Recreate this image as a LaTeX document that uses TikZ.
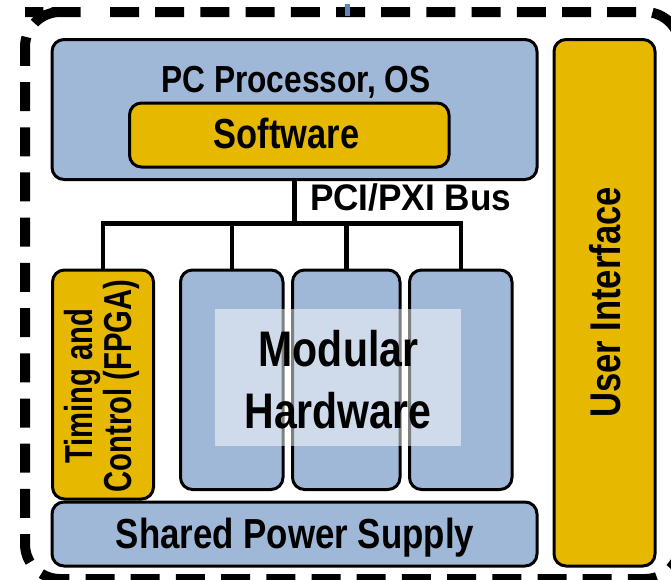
\documentclass[tikz,border=0pt]{standalone}
\usepackage{fontspec}
\setmainfont{Liberation Sans}
\usetikzlibrary{fit}
\definecolor{pblue}{RGB}{160,184,216}
\definecolor{pyellow}{RGB}{230,184,0}
\definecolor{tickblue}{RGB}{95,134,184}
\newcommand{\lbl}[3]{\scalebox{#1}[1]{\fontsize{#2}{#2}\selectfont\bfseries #3}}
\begin{document}
\begin{tikzpicture}[x=1pt,y=-1pt,
  box/.style={draw=black, line width=3pt, rounded corners=12pt, inner sep=0pt, outer sep=0pt},
  bluebox/.style={box, fill=pblue},
  yelbox/.style={box, fill=pyellow},
  bus/.style={line width=4.5pt},
  frame/.style={line width=10pt, dash pattern=on 29pt off 16.2pt, dash phase=30.2pt},
  lab/.style={inner sep=0pt, outer sep=0pt, text=black}]
\useasboundingbox (0,0) rectangle (671,579);
\clip (0,0) rectangle (671,579);
\fill[white] (0,0) rectangle (671,579);
% outer dashed frame
\draw[frame, rounded corners=35pt] (60,12) -- (680,12) -- (680,579) -- (25,579) -- (25,12) -- cycle;
\fill[tickblue] (345,4) rectangle (350,16);
% boxes
\node[bluebox, fit={(52,39.5) (537,179.5)}] (pc) {};
\node[yelbox, fit={(129.5,103) (449,167)}] (sw) {};
\node[yelbox, fit={(554,39.5) (655,566)}] (ui) {};
\node[yelbox, fit={(52.5,270) (153.5,499)}] (tim) {};
\node[bluebox, fit={(180.5,270) (283,489.5)}] (m1) {};
\node[bluebox, fit={(292.5,270) (400,489.5)}] (m2) {};
\node[bluebox, fit={(409.5,270) (512,489.5)}] (m3) {};
\node[bluebox, fit={(52,502) (537,566)}] (psu) {};
% light overlay behind "Modular Hardware"
\fill[white, opacity=0.5] (215,309) rectangle (461,446);
% bus
\coordinate (bus) at (295.5,223.5);
\draw[bus] (pc.south) -- (pc.south |- bus);
\draw[bus] (tim.north) |- (m3.north |- bus) -- (m3.north);
\draw[bus] (m1.north) -- (m1.north |- bus);
\draw[bus] (m2.north) -- (m2.north |- bus);
% labels
\node[lab, anchor=base] (pct) at (296,92) {\lbl{0.84}{37.7}{PC Processor, OS}};
\node[lab, anchor=base] (swt) at (286.5,148) {\lbl{0.82}{42}{Software}};
\node[lab, anchor=base west] (bust) at (310,210) {\lbl{0.95}{37}{PCI/PXI Bus}};
\node[lab, anchor=base] (mod1) at (338.5,366) {\lbl{0.82}{50}{Modular}};
\node[lab, anchor=base] (mod2) at (338,428) {\lbl{0.82}{50}{Hardware}};
\node[lab, anchor=base] (pst) at (295,548) {\lbl{0.83}{42}{Shared Power Supply}};
\node[lab, anchor=base, rotate=90] (uit) at (620,302.5) {\lbl{0.805}{43}{User Interface}};
\node[lab, rotate=90] (timt) at (103.4,386) {\scalebox{0.75}[1]{\fontsize{39}{38}\selectfont\bfseries\begin{tabular}{@{}c@{}}Timing and\\Control (FPGA)\end{tabular}}};
\end{tikzpicture}
\end{document}
